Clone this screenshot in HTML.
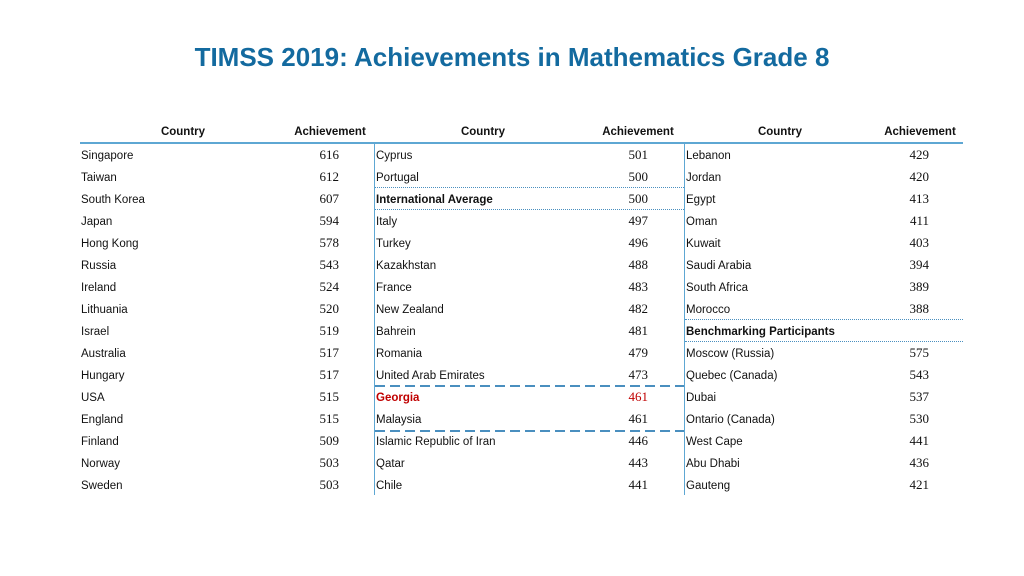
<!DOCTYPE html>
<html><head><meta charset="utf-8"><style>
body{margin:0;width:1024px;height:576px;background:#fff;position:relative;overflow:hidden;font-family:"Liberation Sans",sans-serif}
.t{position:absolute;white-space:nowrap;line-height:14px}
.c{font-size:11.5px;color:#111}
.n{font-family:"Liberation Serif",serif;font-size:13px;color:#111;text-align:right;width:60px}
.h{font-size:11.5px;font-weight:bold;color:#111;text-align:center;width:120px}
.ln{position:absolute}
</style></head><body>
<div class="t" style="left:0;width:1024px;top:42px;line-height:30px;text-align:center;font-size:26px;font-weight:bold;color:#136a9f">TIMSS 2019: Achievements in Mathematics Grade 8</div>
<div id="tbl"></div>
<script>
const col1Countries=["Singapore","Taiwan","South Korea","Japan","Hong Kong","Russia","Ireland","Lithuania","Israel","Australia","Hungary","USA","England","Finland","Norway","Sweden"];
const col1Scores=["616","612","607","594","578","543","524","520","519","517","517","515","515","509","503","503"];
const col2Countries=["Cyprus","Portugal","International Average","Italy","Turkey","Kazakhstan","France","New Zealand","Bahrein","Romania","United Arab Emirates","Georgia","Malaysia","Islamic Republic of Iran","Qatar","Chile"];
const col2Scores=["501","500","500","497","496","488","483","482","481","479","473","461","461","446","443","441"];
const col3Countries=["Lebanon","Jordan","Egypt","Oman","Kuwait","Saudi Arabia","South Africa","Morocco","Benchmarking Participants","Moscow (Russia)","Quebec (Canada)","Dubai","Ontario (Canada)","West Cape","Abu Dhabi","Gauteng"];
const col3Scores=["429","420","413","411","403","394","389","388","","575","543","537","530","441","436","421"];
const tbl=document.getElementById('tbl');
function add(cls,txt,x,y,style,name){const d=document.createElement('div');d.className='t '+cls;d.textContent=txt;d.style.left=x+'px';d.style.top=y+'px';if(style)d.style.cssText+=style;


tbl.appendChild(d);}
function line(x,y,w,h,css,name){const d=document.createElement('div');d.className='ln';d.style.cssText=`left:${x}px;top:${y}px;width:${w}px;height:${h}px;`+css;


tbl.appendChild(d);}
const hdr=[[123,"Country"],[270,"Achievement"],[423,"Country"],[578,"Achievement"],[720,"Country"],[860,"Achievement"]];
hdr.forEach(h=>add('h',h[1],h[0],125,'','header-'+h[1].toLowerCase()));
line(80,142,883,2,'background:#5ea7d3','header-rule');
line(374,143,1,352,'background:#5ea7d3','column-divider-1');
line(684,143,1,352,'background:#5ea7d3','column-divider-2');
const cols=[[col1Countries,col1Scores,81,279],[col2Countries,col2Scores,376,588],[col3Countries,col3Scores,686,869]];
cols.forEach((c,ci)=>{c[0].forEach((name,i)=>{const y=149+i*22;
 let st='';if(name==="International Average"||name==="Benchmarking Participants")st='font-weight:bold;';
 if(name==="Georgia")st='font-weight:bold;color:#c00000;';
 add('c',name,c[2],y,st,'country-name');
 if(c[1][i])add('n',c[1][i],c[3],y-1,name==="Georgia"?'color:#c00000;':'','score-value');});});
line(375,187,309,0,'border-top:1px dotted #4a8fbf','dotted-rule');
line(375,209,309,0,'border-top:1px dotted #4a8fbf','dotted-rule');
line(685,319,278,0,'border-top:1px dotted #4a8fbf','dotted-rule');
line(685,341,278,0,'border-top:1px dotted #4a8fbf','dotted-rule');
line(375,385,309,2,'background:repeating-linear-gradient(90deg,#4a8fbf 0 10px,transparent 10px 15px)','dashed-rule');
line(375,430,309,2,'background:repeating-linear-gradient(90deg,#4a8fbf 0 10px,transparent 10px 15px)','dashed-rule');
</script>
</body></html>
